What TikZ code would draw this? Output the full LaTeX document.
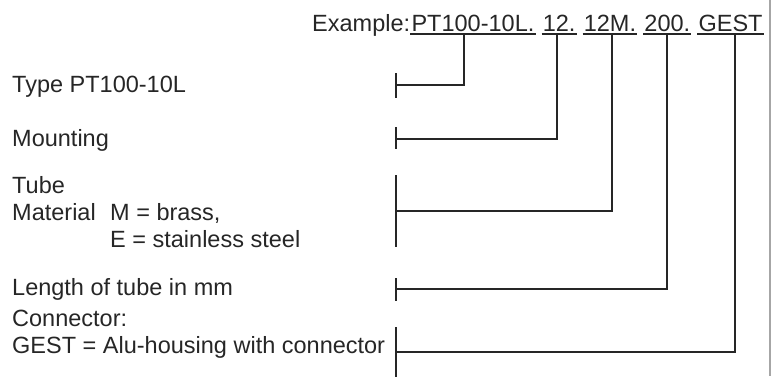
\documentclass[tikz,border=0pt]{standalone}
\usepackage{fontspec}
\setmainfont{Liberation Sans}
\usetikzlibrary{positioning, calc}

\begin{document}
\begin{tikzpicture}[x=1pt, y=-1pt,
  txt/.style={font=\fontsize{23.5}{27}\selectfont, text=black!85, inner sep=0pt,
              anchor=base west, align=left},
  seg/.style={font=\fontsize{23.5}{27}\selectfont, text=black!85, inner xsep=1pt,
              inner ysep=2.5pt, text depth=0pt},
  uline/.style={line width=2pt, draw=black!85},
  bar/.style={line width=2pt, draw=black!85},
  lead/.style={line width=2pt, draw=black!85},
]
\useasboundingbox (0,0) rectangle (782,376);

% Example code with underlined parts
\node[txt] (ex) at (312,31) {Example:};
\node[seg, anchor=base west] (pt) at (ex.base east) {PT100-10L.};
\node[seg, right=6pt of pt] (s12) {12.};
\node[seg, right=6pt of s12] (s12m) {12M.};
\node[seg, right=6pt of s12m] (s200) {200.};
\node[seg, right=6pt of s200] (gest) {GEST};
\foreach \s in {pt, s12, s12m, s200, gest}
  \draw[uline] (\s.south west) -- (\s.south east);

% Descriptions (base = last line)
\node[txt] (type) at (12,92) {Type PT100-10L};
\node[txt] (mount) at (12,146) {Mounting};
\node[txt] (tube) at (12,247)
  {Tube\\\makebox[98pt][l]{Material}M = brass,\\\hspace*{98pt}E = stainless steel};
\node[txt] (len) at (12,295) {Length of tube in mm};
\node[txt] (conn) at (12,353) {Connector:\\GEST = Alu-housing with connector};

% Brackets
\coordinate (b1) at (396,85);
\coordinate (b2) at (396,139);
\coordinate (b3) at (396,211);
\coordinate (b4) at (396,289);
\coordinate (b5) at (396,352);
\draw[bar] ([yshift=12pt]b1) -- ([yshift=-13pt]b1);
\draw[bar] ([yshift=12pt]b2) -- ([yshift=-10pt]b2);
\draw[bar] ([yshift=36pt]b3) -- ([yshift=-36pt]b3);
\draw[bar] ([yshift=11pt]b4) -- ([yshift=-12pt]b4);
\draw[bar] ([yshift=25pt]b5) -- ([yshift=-26pt]b5);

% Leads
\draw[lead] (b1) -| ([xshift=-9pt]pt.south);
\draw[lead] (b2) -| ([xshift=-2pt]s12.south);
\draw[lead] (b3) -| ([xshift=2pt]s12m.south);
\draw[lead] (b4) -| (s200.south);
\draw[lead] (b5) -| ([xshift=4pt]gest.south);

% Right border
\draw[gray!70, line width=1.2pt] (770,0) -- (770,376);
\end{tikzpicture}
\end{document}
